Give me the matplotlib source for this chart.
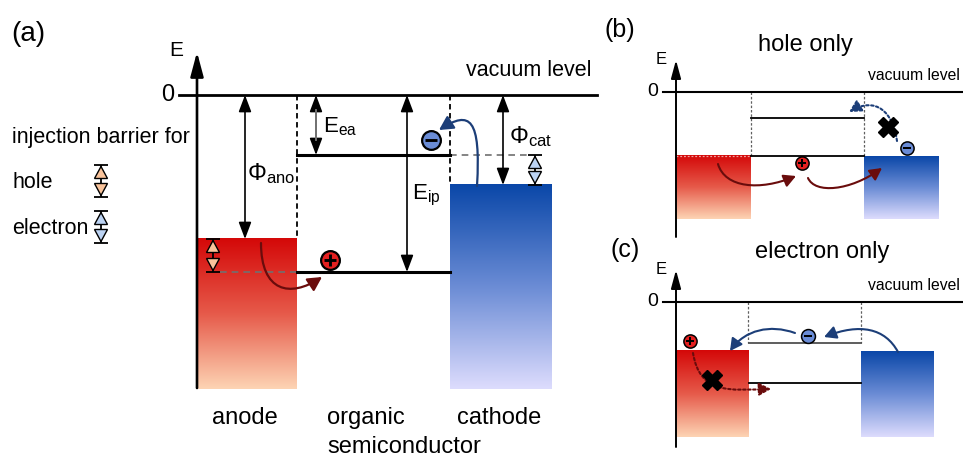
import numpy as np
import matplotlib
matplotlib.use("Agg")
import matplotlib.pyplot as plt
import matplotlib.colors as mcolors
from matplotlib.patches import FancyArrowPatch, Polygon
from matplotlib.path import Path

plt.rcParams['font.family'] = ['Liberation Sans', 'DejaVu Sans']
plt.rcParams['mathtext.fontset'] = 'custom'
plt.rcParams['mathtext.rm'] = 'Liberation Sans'
plt.rcParams['mathtext.it'] = 'Liberation Sans:italic'
plt.rcParams['mathtext.bf'] = 'Liberation Sans:bold'

# ---------------- data: energies in eV below the vacuum level ----------------
panel_ids = ['(a)', '(b)', '(c)']
panel_titles = ['', 'hole only', 'electron only']
anode_wf = [4.8, 4.9, 3.5]          # anode work function
lumo = [2.0, 2.0, 3.0]              # electron affinity level of organic layer
homo = [5.9, 4.9, 5.9]              # ionisation level of organic layer
cathode_wf = [3.0, 5.0, 3.6]        # cathode work function
electrode_depth = [9.8, 9.8, 9.8]   # drawn depth of the electrode bands
layer_labels = ['anode', 'organic', 'semiconductor', 'cathode']
legend_labels = ['injection barrier for', 'hole', 'electron']

# ---------------- layout (pixels) ----------------
W, H = 963, 457
layout = [
    dict(y0=95, s=30.0, xa=197, x1=297, x2=450, x3=552, vx0=179, vx1=597, top=52, bot=388),
    dict(y0=92, s=13.0, xa=676, x1=751, x2=864, x3=939, vx0=663, vx1=963, top=60, bot=237),
    dict(y0=302, s=13.8, xa=676, x1=749, x2=861, x3=934, vx0=663, vx1=963, top=270, bot=447),
]

RED = ['#d40808', '#e65a4a', '#fdd4b4']
BLUE = ['#0a47a8', '#6b8cd5', '#dddcfd']
DRED = '#6a0c0c'
NAVY = '#1c3e78'
PEACH = '#f9c39b'
LBLUE = '#bcd3f3'

fig = plt.figure(figsize=(W / 100, H / 100), dpi=100)
bg = fig.add_axes([0, 0, 1, 1])
bg.set_xlim(0, W)
bg.set_ylim(H, 0)
bg.axis('off')


def make_panel(L):
    ax = fig.add_axes([0, 0, 1, 1])
    ax.axis('off')
    ax.patch.set_visible(False)
    return ax


def set_lims(ax, L):
    ax.set_xlim(0, W)
    ax.set_ylim(-(H - L['y0']) / L['s'], L['y0'] / L['s'])


def py(L, ypx):
    return -(ypx - L['y0']) / L['s']


def grad(ax, x0, x1, ytop, ybot, cols):
    cmap = mcolors.LinearSegmentedColormap.from_list('g', cols)
    img = np.linspace(0, 1, 256)[:, None]
    ax.imshow(img, cmap=cmap, extent=(x0, x1, ybot, ytop), origin='upper',
              aspect='auto', interpolation='bilinear', zorder=1)


def darrow(ax, x, ya, yb, color='k', lw=1.2, ms=12):
    ax.annotate('', xy=(x, yb), xytext=(x, ya),
                arrowprops=dict(arrowstyle='<|-|>,head_length=0.85,head_width=0.32',
                                color=color, lw=lw, shrinkA=0, shrinkB=0,
                                mutation_scale=ms), zorder=5)


def barrier(ax, x, yt, yb, down, fc):
    kw = dict(color='k', lw=1.3, zorder=6, solid_capstyle='butt')
    ax.plot([x - 7, x + 7], [yt, yt], **kw)
    ax.plot([x - 7, x + 7], [yb, yb], **kw)
    ax.plot([x, x], [yt, yb], **kw)
    ax.add_patch(Polygon([(x - 6.5, yt + 13.5 * down), (x + 6.5, yt + 13.5 * down),
                          (x, yt + 1.5 * down)], fc=fc, ec='k', lw=1.0, zorder=7))
    ax.add_patch(Polygon([(x - 6.5, yb - 13.5 * down), (x + 6.5, yb - 13.5 * down),
                          (x, yb - 1.5 * down)], fc=fc, ec='k', lw=1.0, zorder=7))


def charge(ax, x, y, sign, ms, mew):
    fc = '#e42020' if sign > 0 else '#6a8cd6'
    ax.plot([x], [y], 'o', ms=ms, mfc=fc, mec='k', mew=mew, zorder=8)
    ax.plot([x], [y], '+' if sign > 0 else '_', ms=ms * 0.62, mec='k',
            mew=mew * 1.3, zorder=9)


def curve(ax, L, pts, color, ls='-', ms=14, lw=1.6):
    verts = [(x, py(L, y)) for x, y in pts]
    path = Path(verts, [Path.MOVETO, Path.CURVE4, Path.CURVE4, Path.CURVE4])
    arr = FancyArrowPatch(path=path,
                          arrowstyle='-|>,head_length=0.6,head_width=0.32',
                          mutation_scale=ms, color=color, lw=lw, linestyle=ls,
                          zorder=7)
    ax.add_patch(arr)


def base_diagram(i, big):
    L = layout[i]
    ax = make_panel(L)
    ea, ei = lumo[i], homo[i]
    wa, wc, d = anode_wf[i], cathode_wf[i], electrode_depth[i]
    # electrodes
    grad(ax, L['xa'], L['x1'], -wa, -d, RED)
    grad(ax, L['x2'], L['x3'], -wc, -d, BLUE)
    # energy axis
    if big:
        style = '-|>,head_length=1.05,head_width=0.28'
    else:
        style = '-|>,head_length=1.0,head_width=0.27'
    ax.annotate('', xy=(L['xa'], py(L, L['top'])), xytext=(L['xa'], py(L, L['bot'])),
                arrowprops=dict(arrowstyle=style, color='k',
                                lw=1.9 if big else 1.4, shrinkA=0, shrinkB=0,
                                mutation_scale=14 if big else 11), zorder=6)
    # vacuum level
    ax.plot([L['vx0'], L['vx1']], [0, 0], color='k', lw=2.0 if big else 1.5, zorder=5)
    # organic levels
    llw = 2.2 if big else 1.3
    ax.plot([L['x1'], L['x2']], [-ea, -ea], color='k' if i != 2 else '#505050', lw=llw, zorder=5)
    ax.plot([L['x1'], L['x2']], [-ei, -ei], color='k', lw=llw, zorder=5)
    return ax, L


# ================= panel (a) =================
ax, L = base_diagram(0, True)
ea, ei, wa, wc = lumo[0], homo[0], anode_wf[0], cathode_wf[0]
dash = dict(color='k', lw=1.3, linestyle=(0, (3, 2)), zorder=4)
ax.plot([L['x1'], L['x1']], [0, -wa], **dash)
ax.plot([L['x2'], L['x2']], [0, -wc], **dash)
gd = dict(color='#707070', lw=1.2, linestyle=(0, (4, 3)), zorder=4)
ax.plot([220, L['x1']], [-ei, -ei], **gd)
ax.plot([L['x2'], 528], [-ea, -ea], **gd)
darrow(ax, 245, 0, -wa)
darrow(ax, 316, 0, -ea)
ax.plot([316, 316], [-15 / L['s'], -ea + 15 / L['s']], color='#7a7a7a', lw=1.3, zorder=6)
darrow(ax, 407, 0, -ei)
darrow(ax, 503, 0, -wc)
barrier(ax, 213, -wa, -ei, -1 / L['s'], PEACH)
barrier(ax, 535, -ea, -wc, -1 / L['s'], LBLUE)
charge(ax, 330, py(L, 260), +1, 13.5, 1.6)
charge(ax, 431, py(L, 140), -1, 13.5, 1.6)
curve(ax, L, [(261, 243), (261, 292), (290, 298), (322, 277)], DRED)
curve(ax, L, [(477, 186), (481, 118), (470, 110), (439, 130)], NAVY)
set_lims(ax, L)

# ================= panel (b) =================
ax, L = base_diagram(1, False)
ea, ei, wa, wc = lumo[1], homo[1], anode_wf[1], cathode_wf[1]
dot = dict(color='#606060', lw=0.9, linestyle=(0, (2, 1.5)), zorder=4)
ax.plot([L['x1'], L['x1']], [0, -ei], **dot)
ax.plot([L['x2'], L['x2']], [0, -ei], **dot)
ax.plot([L['xa'], L['x1']], [-wa, -wa], color='#f0a0a0', lw=0.9, linestyle=(0, (1.5, 1.5)), zorder=3)
charge(ax, 802, py(L, 163), +1, 9.5, 1.1)
charge(ax, 907, py(L, 148), -1, 9.5, 1.1)
curve(ax, L, [(718, 164), (725, 188), (760, 191), (796, 176)], DRED, ms=12, lw=1.5)
curve(ax, L, [(808, 178), (815, 194), (850, 191), (882, 168)], DRED, ms=12, lw=1.5)
curve(ax, L, [(897, 141), (893, 112), (876, 96), (849, 112)], NAVY, ls=(0, (1.2, 1.2)), ms=12, lw=1.5)
ax.plot([888], [py(L, 127)], 'X', ms=15, color='k', mec='k', zorder=9)
set_lims(ax, L)

# ================= panel (c) =================
ax, L = base_diagram(2, False)
ea, ei, wa, wc = lumo[2], homo[2], anode_wf[2], cathode_wf[2]
ax.plot([748, 748], [0, -ea], **dot)
ax.plot([L['x2'], L['x2']], [0, -ea], **dot)
charge(ax, 690, py(L, 341), +1, 9.5, 1.1)
charge(ax, 808, py(L, 336), -1, 10, 1.1)
curve(ax, L, [(898, 352), (885, 328), (860, 323), (824, 337)], NAVY, ms=12, lw=1.5)
curve(ax, L, [(795, 333), (770, 324), (745, 330), (730, 351)], NAVY, ms=12, lw=1.5)
curve(ax, L, [(693, 353), (700, 395), (730, 390), (771, 389)], DRED, ls=(0, (1.2, 1.2)), ms=12, lw=1.5)
ax.plot([712], [py(L, 380)], 'X', ms=15, color='k', mec='k', zorder=9)
set_lims(ax, L)

# ================= texts & legend (pixel axes) =================
bg.text(11, 34, panel_ids[0], fontsize=20, ha='left', va='center')
bg.text(605, 30, panel_ids[1], fontsize=18, ha='left', va='center')
bg.text(611, 250, panel_ids[2], fontsize=18, ha='left', va='center')
bg.text(805, 45, panel_titles[1], fontsize=17, ha='center', va='center')
bg.text(822, 252, panel_titles[2], fontsize=17, ha='center', va='center')

bg.text(176, 50, 'E', fontsize=15, ha='center', va='center')
bg.text(174, 95, '0', fontsize=17, ha='right', va='center')
bg.text(591, 70, 'vacuum level', fontsize=15.5, ha='right', va='center')
for (ex, ey, zy, vy) in [(661, 59, 92, 75), (661, 270, 302, 285)]:
    bg.text(ex, ey, 'E', fontsize=12, ha='center', va='center')
    bg.text(658, zy, '0', fontsize=14, ha='right', va='center')
    bg.text(960, vy, 'vacuum level', fontsize=11.3, ha='right', va='center')

bg.text(247, 174, r'$\mathrm{\Phi}_{\mathrm{ano}}$', fontsize=17, ha='left', va='center')
bg.text(323, 127, r'$\mathrm{E}_{\mathrm{ea}}$', fontsize=16, ha='left', va='center')
bg.text(412, 195, r'$\mathrm{E}_{\mathrm{ip}}$', fontsize=16, ha='left', va='center')
bg.text(509, 137, r'$\mathrm{\Phi}_{\mathrm{cat}}$', fontsize=17, ha='left', va='center')

bg.text(12, 138, legend_labels[0], fontsize=15.5, ha='left', va='center')
bg.text(12, 183, legend_labels[1], fontsize=15.5, ha='left', va='center')
bg.text(12, 228, legend_labels[2], fontsize=15.5, ha='left', va='center')
barrier(bg, 101, 165, 197, 1, PEACH)
barrier(bg, 101, 211, 243, 1, LBLUE)

bg.text(245, 418, layer_labels[0], fontsize=17, ha='center', va='center')
bg.text(327, 418, layer_labels[1], fontsize=17, ha='left', va='center')
bg.text(327, 447, layer_labels[2], fontsize=17, ha='left', va='center')
bg.text(457, 418, layer_labels[3], fontsize=17, ha='left', va='center')
bg.set_xlim(0, W)
bg.set_ylim(H, 0)

fig.savefig('out.png', dpi=100)
